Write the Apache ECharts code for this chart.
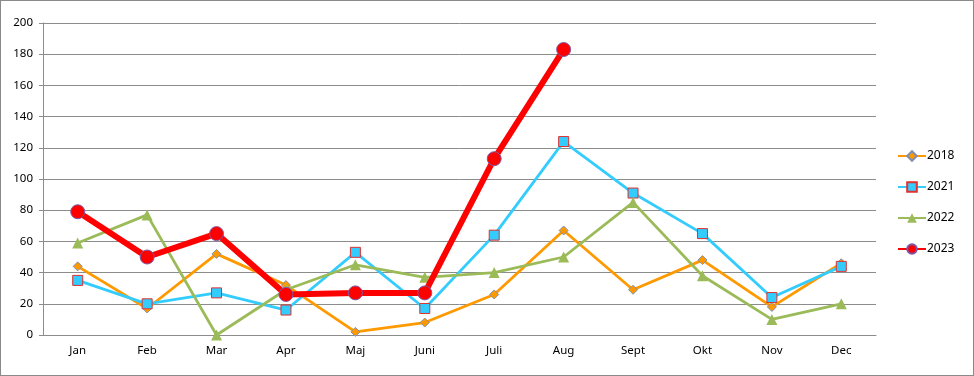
<!DOCTYPE html>
<html>
<head>
<meta charset="utf-8">
<script src="https://cdn.jsdelivr.net/npm/echarts@6/dist/echarts.min.js"></script>
<style>
  html, body { margin: 0; padding: 0; background: #fff; }
  #chart { width: 974px; height: 376px; box-sizing: border-box; border: 1px solid #8a8a8a; }
</style>
</head>
<body>
<div id="chart"></div>
<script>
// months and yearly values
var months = ['Jan', 'Feb', 'Mar', 'Apr', 'Maj', 'Juni', 'Juli', 'Aug', 'Sept', 'Okt', 'Nov', 'Dec'];
var y2018 = [44, 17, 52, 32, 2, 8, 26, 67, 29, 48, 18, 46];
var y2021 = [35, 20, 27, 16, 53, 17, 64, 124, 91, 65, 24, 44];
var y2022 = [59, 77, 0, 29, 45, 37, 40, 50, 85, 38, 10, 20];
var y2023 = [79, 50, 65, 26, 27, 27, 113, 183];

var gridColor = '#8c8c8c';
var fontFam = 'Noto Sans';

var chart = echarts.init(document.getElementById('chart'), null, { renderer: 'canvas' });

chart.setOption({
    animation: false,
    grid: { left: 42, right: 97, top: 22, bottom: 40 },
    legend: {
        orient: 'vertical',
        left: 891, top: 144,
        itemWidth: 28, itemHeight: 12, itemGap: 19,
        textStyle: { fontFamily: fontFam, fontSize: 12, color: '#000', padding: [0, 0, 0, -4] },
        data: ['2018', '2021', '2022', '2023']
    },
    xAxis: {
        type: 'category',
        data: months,
        boundaryGap: true,
        axisLine: { lineStyle: { color: gridColor } },
        axisTick: { length: 4, lineStyle: { color: gridColor } },
        axisLabel: { fontFamily: fontFam, fontSize: 11.5, color: '#000', margin: 10 }
    },
    yAxis: {
        type: 'value',
        min: 0, max: 200, interval: 20,
        axisLine: { show: true, lineStyle: { color: gridColor } },
        axisTick: { show: true, length: 4, lineStyle: { color: gridColor } },
        splitLine: { lineStyle: { color: gridColor } },
        axisLabel: { fontFamily: fontFam, fontSize: 11.5, color: '#000', margin: 10 }
    },
    series: [
        {
            name: '2018', type: 'line', data: y2018,
            symbol: 'diamond', symbolSize: 9,
            lineStyle: { color: '#ff9900', width: 2.8 },
            itemStyle: { color: '#ff9900', borderColor: '#7f8fb0', borderWidth: 1 }
        },
        {
            name: '2021', type: 'line', data: y2021,
            symbol: 'rect', symbolSize: 10,
            lineStyle: { color: '#33ccff', width: 2.8 },
            itemStyle: { color: '#33ccff', borderColor: '#e03030', borderWidth: 1 }
        },
        {
            name: '2022', type: 'line', data: y2022,
            symbol: 'triangle', symbolSize: 11,
            lineStyle: { color: '#9bbb59', width: 2.8 },
            itemStyle: { color: '#9bbb59', borderWidth: 0 }
        },
        {
            name: '2023', type: 'line', data: y2023,
            symbol: 'circle', symbolSize: 14,
            lineStyle: { color: '#ff0000', width: 6 },
            itemStyle: { color: '#ff0000', borderColor: '#7a5aa8', borderWidth: 1 },
            z: 5
        }
    ]
});
</script>
</body>
</html>
